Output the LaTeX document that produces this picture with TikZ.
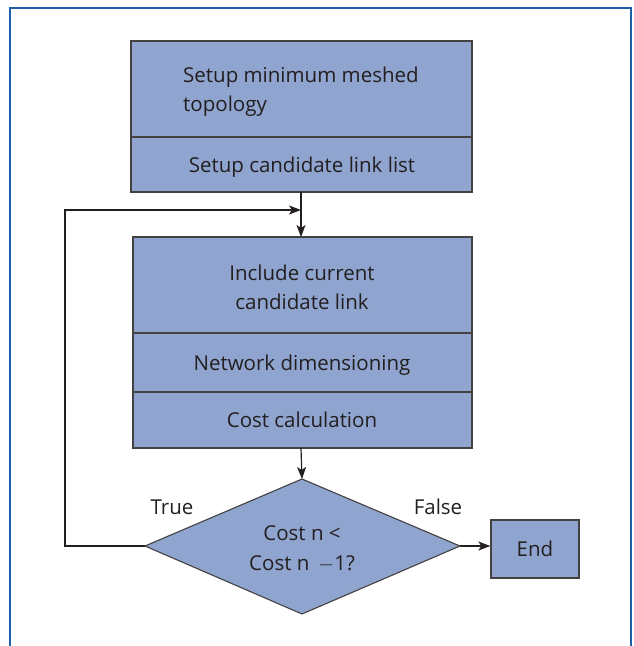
\documentclass[tikz,border=0pt]{standalone}
\usepackage{fontspec}
\setmainfont{Open Sans}
\usetikzlibrary{arrows.meta,shapes.geometric}
\definecolor{boxfill}{RGB}{143,164,207}
\definecolor{frameblue}{RGB}{30,95,170}
\definecolor{ink}{RGB}{35,31,32}
\tikzset{
  blk/.style={draw=ink!85,line width=1.3pt,fill=boxfill},
  sep/.style={draw=ink!85,line width=1.3pt},
  lbl/.style={text=ink,font=\fontsize{20.5}{29}\selectfont,inner sep=0pt},
  conn/.style={draw=ink,line width=1.2pt,-{Stealth[length=12pt,width=9pt,inset=3pt]}},
}
\begin{document}
\begin{tikzpicture}[x=1pt,y=-1pt]
\useasboundingbox (0,0) rectangle (634,646);
% frame
\draw[frameblue,line width=2.5pt] (10,646) -- (10,8) -- (631,8) -- (631,646);
% top block
\draw[blk] (131,41) rectangle (472,192);
\draw[sep] (131,137) -- (472,137);
\node[lbl,anchor=base west,align=left] (t1) at (183,82) {Setup minimum meshed};
\node[lbl,anchor=base west] (t1b) at (183,111) {topology};
\node[lbl,anchor=base] (t2) at (302,172) {Setup candidate link list};
\coordinate (topb) at (301,192);
% middle block
\draw[blk] (133,237) rectangle (472,448);
\draw[sep] (133,333) -- (472,333);
\draw[sep] (133,392) -- (472,392);
\coordinate (midt) at (301,237);
\coordinate (midb) at (301,448);
\node[lbl,anchor=base] (m1) at (302,280) {Include current};
\node[lbl,anchor=base] (m1b) at (302,309) {candidate link};
\node[lbl,anchor=base] (m2) at (302,370) {Network dimensioning};
\node[lbl,anchor=base] (m3) at (302,427) {Cost calculation};
% diamond
\draw[blk,line width=1.1pt] (302,479) coordinate (dt) -- (460,546) coordinate (dr) -- (302,614) -- (145,546) coordinate (dl) -- cycle;
\node[lbl,anchor=base] (d1) at (302,540) {Cost n <};
\node[lbl,anchor=base] (d2) at (302,570) {Cost n \,$-$1?};
\node[lbl,anchor=base] (tr) at (172,514) {True};
\node[lbl,anchor=base] (fa) at (438,514) {False};
% end
\node[blk,minimum width=88pt,minimum height=58pt,inner sep=0pt,lbl] (end) at (535,549) {End};
% connectors
\draw[conn] (topb) -- (midt);
\draw[conn] (midb) -- (dt);
\draw[conn] (dr) -- (end.west |- dr);
\coordinate (lp1) at (65,546);
\coordinate (lp2) at (65,210);
\coordinate (lp3) at (301,210);
\draw[conn] (dl) -- (lp1) -- (lp2) -- (lp3);
\end{tikzpicture}
\end{document}
